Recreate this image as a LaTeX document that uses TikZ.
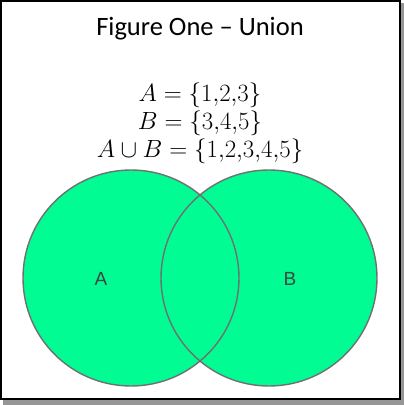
\documentclass[tikz,border=0pt]{standalone}
\usepackage{fontspec}
\setmainfont{Carlito}
\newfontfamily\labelfont{Liberation Sans}
\definecolor{vennfill}{RGB}{0,252,146}
\definecolor{venndraw}{RGB}{112,112,112}
\definecolor{labelgray}{RGB}{60,70,66}
\definecolor{shadowgray}{RGB}{150,150,150}
\begin{document}
\begin{tikzpicture}[
    x=1pt,y=-1pt,
    titletext/.style={inner sep=0pt,anchor=base,font=\fontsize{26.5}{30}\selectfont},
    settext/.style={inner sep=0pt,anchor=base,font=\fontsize{25.5}{30}\selectfont},
    setlabel/.style={inner sep=0pt,text=labelgray,font=\labelfont\fontsize{19}{22}\selectfont},
    outline/.style={draw=venndraw,line width=1.4pt}
]
    \useasboundingbox (0,0) rectangle (404,405);
    % Frame with shadow
    \fill[shadowgray] (3,3) rectangle (404,405);
    \draw[fill=white,line width=1.8pt] (1,1) rectangle (400,399);

    % Title and sets
    \node[titletext] (title) at (200,35) {Figure One -- Union};
    \node[settext] (eqa) at (200,101) {$A=\{1{,}2{,}3\}$};
    \node[settext] (eqb) at (200,129) {$B=\{3{,}4{,}5\}$};
    \node[settext] (equnion) at (200,157) {$A\cup B=\{1{,}2{,}3{,}4{,}5\}$};

    % Circles
    \coordinate (centera) at (131,278);
    \coordinate (centerb) at (269,278);
    \fill[vennfill] (centera) circle[radius=108];
    \fill[vennfill] (centerb) circle[radius=108];
    \draw[outline] (centera) circle[radius=108];
    \draw[outline] (centerb) circle[radius=108];

    % Labels
    \node[setlabel] (labela) at (101,279) {A};
    \node[setlabel] (labelb) at (290,279) {B};
\end{tikzpicture}
\end{document}
